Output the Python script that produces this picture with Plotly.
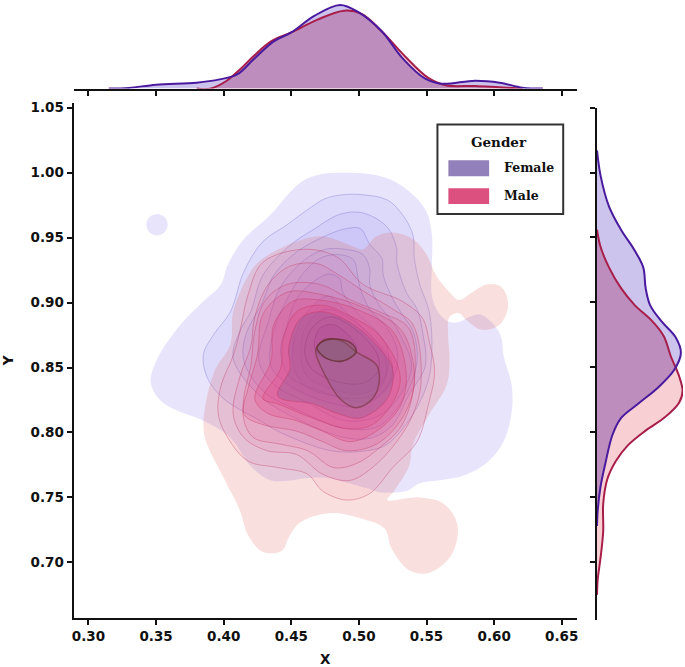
"""Joint KDE of X and Y by gender: filled contours with marginal densities."""

import plotly.graph_objects as go

# filled density contours, outermost first
female_1_x = [.488, .508, .525, .540, .550, .554, .554, .554, .559, .567, .574, .582, .589, .598, .605, .607, .613, .613, .607, .596, .578, .559, .545, .535, .515, .506, .476, .462, .449, .435, .420, .405, .385, .363, .352, .346, .351, .368, .385, .398, .403, .415, .435, .449, .459, .473]
female_1_y = [1.000, .999, .994, .983, .970, .952, .929, .905, .892, .885, .885, .889, .891, .885, .874, .859, .836, .816, .793, .778, .767, .763, .761, .755, .754, .757, .765, .765, .763, .763, .774, .796, .809, .818, .826, .839, .857, .883, .901, .914, .929, .949, .968, .985, .994, .999]
female_island_x = [.3586, .3563, .3507, .3451, .3428, .3451, .3507, .3563]
female_island_y = [.960, .9658, .9682, .9658, .960, .9542, .9518, .9542]
female_2_x = [.488, .503, .521, .532, .540, .541, .545, .552, .554, .551, .540, .521, .506, .479, .442, .427, .400, .388, .385, .393, .405, .415, .429, .447, .464, .475]
female_2_y = [.983, .983, .979, .968, .952, .934, .914, .893, .862, .839, .814, .791, .786, .786, .800, .809, .826, .842, .860, .876, .893, .924, .947, .960, .973, .980]
female_3_x = [.486, .503, .521, .528, .528, .535, .543, .547, .549, .537, .525, .510, .490, .457, .427, .407, .412, .420, .429, .449, .466]
female_3_y = [.968, .969, .958, .941, .931, .908, .895, .878, .851, .829, .806, .796, .796, .809, .828, .857, .878, .893, .921, .944, .956]
female_4_x = [.501, .508, .517, .518, .525, .532, .540, .543, .534, .515, .490, .457, .429, .415, .416, .429, .437, .454, .479, .491]
female_4_y = [.957, .945, .934, .921, .903, .891, .878, .855, .828, .805, .803, .816, .832, .855, .874, .901, .921, .939, .953, .957]
female_5_x = [.490, .503, .508, .508, .515, .525, .532, .539, .530, .515, .490, .460, .438, .426, .433, .442, .460, .475]
female_5_y = [.941, .937, .926, .914, .898, .885, .872, .851, .828, .813, .809, .824, .836, .855, .885, .912, .933, .941]
female_6_x = [.484, .496, .499, .501, .508, .521, .528, .528, .519, .501, .475, .449, .435, .437, .446, .460, .471]
female_6_y = [.937, .933, .921, .911, .895, .880, .865, .849, .832, .820, .824, .836, .851, .878, .901, .924, .934]
female_7_x = [.479, .486, .488, .498, .513, .521, .521, .512, .493, .471, .449, .442, .447, .454, .469]
female_7_y = [.922, .918, .908, .893, .878, .865, .847, .830, .826, .832, .843, .862, .883, .903, .918]
female_8_x = [.451, .457, .477, .490, .509, .524, .523, .507, .482, .460]
female_8_y = [.855, .885, .905, .893, .874, .855, .839, .824, .828, .836]
female_9_x = [.457, .461, .476, .501, .519, .519, .504, .482, .462]
female_9_y = [.859, .882, .895, .882, .859, .842, .830, .833, .843]
female_10_x = [.460, .465, .479, .501, .514, .514, .503, .484, .465]
female_10_y = [.862, .880, .889, .876, .859, .847, .838, .839, .849]
female_11_x = [.467, .471, .481, .493, .498, .492, .479, .470]
female_11_y = [.868, .880, .883, .874, .865, .856, .856, .860]

male_1_x = [.525, .540, .550, .557, .567, .574, .584, .594, .604, .609, .610, .604, .591, .579, .574, .567, .566, .567, .565, .552, .540, .537, .526, .521, .545, .563, .573, .568, .552, .537, .524, .519, .501, .479, .457, .449, .443, .429, .418, .412, .401, .387, .385, .388, .394, .405, .407, .420, .429, .454, .471, .484, .496, .503, .513]
male_1_y = [.954, .949, .937, .921, .908, .902, .908, .914, .913, .906, .895, .883, .879, .887, .892, .889, .874, .857, .837, .814, .791, .774, .755, .748, .750, .745, .728, .705, .692, .694, .711, .726, .734, .738, .731, .721, .709, .708, .721, .740, .763, .793, .806, .829, .849, .868, .893, .924, .934, .947, .951, .948, .943, .941, .951]
male_2_x = [.552, .547, .532, .503, .484, .459, .429, .418, .412, .407, .398, .396, .403, .418, .440, .462, .473, .491, .508, .525, .543, .551, .556]
male_2_y = [.870, .888, .901, .914, .935, .941, .931, .906, .878, .859, .836, .814, .796, .778, .773, .768, .755, .748, .753, .773, .793, .820, .847]
male_3_x = [.407, .415, .432, .454, .473, .493, .510, .528, .540, .546, .540, .525, .506, .484, .469, .449, .433, .423, .420, .412]
male_3_y = [.814, .796, .786, .783, .768, .763, .773, .793, .814, .839, .883, .895, .907, .922, .930, .928, .914, .889, .866, .843]
male_4_x = [.415, .422, .442, .462, .481, .498, .515, .532, .541, .537, .515, .496, .471, .447, .431, .423, .420, .415]
male_4_y = [.809, .796, .791, .786, .773, .776, .788, .806, .839, .880, .893, .901, .914, .914, .902, .878, .851, .828]
male_5_x = [.415, .429, .454, .473, .491, .513, .532, .541, .532, .506, .473, .447, .429, .425, .418]
male_5_y = [.814, .806, .801, .793, .786, .791, .811, .839, .878, .895, .906, .908, .891, .860, .834]
male_6_x = [.423, .432, .454, .473, .493, .510, .530, .535, .525, .498, .471, .451, .437, .435]
male_6_y = [.826, .815, .809, .801, .793, .799, .819, .845, .878, .895, .902, .901, .883, .855]
male_7_x = [.429, .440, .466, .491, .510, .528, .530, .515, .491, .473, .454, .444, .442]
male_7_y = [.826, .822, .811, .803, .806, .829, .847, .875, .891, .898, .893, .872, .849]
male_8_x = [.440, .449, .448, .457, .473, .496, .515, .525, .521, .501, .486, .466]
male_8_y = [.828, .849, .865, .888, .893, .883, .865, .849, .826, .811, .814, .822]
male_9_x = [.468, .476, .486, .498, .510, .515, .513, .498, .488, .476, .469]
male_9_y = [.862, .842, .826, .819, .826, .839, .852, .862, .870, .872, .866]
male_10_x = [.469, .476, .488, .498, .494, .481, .473]
male_10_y = [.865, .857, .855, .862, .869, .872, .870]

# marginal densities
top_female_x = [.315, .330, .350, .380, .397, .410, .422, .437, .450, .467, .486, .499, .517, .532, .549, .561, .586, .604, .621, .636]
top_female_d = [0, .07, .4, .6, .93, 1.43, 2.93, 4.76, 5.66, 7.33, 8.43, 7.76, 5.76, 3.1, 1.0, .5, .8, .6, .1, 0]
top_male_x = [.380, .390, .402, .412, .422, .435, .450, .469, .489, .502, .517, .534, .551, .564, .586, .604, .621]
top_male_d = [0, 0, .77, 1.93, 3.26, 4.76, 5.66, 6.93, 7.86, 7.53, 5.76, 3.26, 1.1, .33, .27, .13, 0]
right_female_y = [1.017, .998, .974, .956, .940, .927, .911, .898, .885, .873, .861, .848, .835, .822, .811, .798, .777, .758, .740, .728]
right_female_d = [0, .33, 1.14, 2.29, 3.59, 4.41, 4.64, 5.06, 6.2, 7.51, 8.0, 7.35, 5.88, 3.92, 2.29, 1.47, .82, .33, .07, 0]
right_male_y = [.956, .943, .927, .911, .898, .886, .874, .859, .843, .832, .823, .812, .801, .790, .778, .764, .745, .724, .703, .687, .675]
right_male_d = [0, .33, 1.14, 2.29, 3.59, 5.22, 6.37, 7.02, 7.84, 8.16, 7.84, 6.53, 4.57, 2.94, 1.80, .98, .59, .59, .33, .07, 0]

x_ticks = [.30, .35, .40, .45, .50, .55, .60, .65]
y_ticks = [.70, .75, .80, .85, .90, .95, 1.00, 1.05]

female_levels = [
    (female_1_x, female_1_y), (female_island_x, female_island_y),
    (female_2_x, female_2_y), (female_3_x, female_3_y), (female_4_x, female_4_y),
    (female_5_x, female_5_y), (female_6_x, female_6_y), (female_7_x, female_7_y),
    (female_8_x, female_8_y), (female_9_x, female_9_y), (female_10_x, female_10_y),
    (female_11_x, female_11_y),
]
female_alpha = [.17, .17, .08, .08, .07, .06, .06, .06, .06, .07, .09, .2]
male_levels = [
    (male_1_x, male_1_y), (male_2_x, male_2_y), (male_3_x, male_3_y), (male_4_x, male_4_y),
    (male_5_x, male_5_y), (male_6_x, male_6_y), (male_7_x, male_7_y), (male_8_x, male_8_y),
    (male_9_x, male_9_y), (male_10_x, male_10_y),
]
male_colors = ["225,95,90", "236,45,115", "236,45,115", "236,45,115", "236,45,115", "236,45,115", "236,45,115", "130,90,150", "120,110,130", "110,100,90"]
male_alpha = [.2, .06, .07, .08, .14, .18, .18, .3, .22, .3]

FEMALE_LINE = "#4a1a9e"
MALE_LINE = "#a81e4a"
FEMALE_FILL = "#cdc4ee"
MALE_FILL = "#f8cfd2"
BOTH_FILL = "#bd8dbd"
FONT = "DejaVu Sans"
LEGEND_FONT = "DejaVu Serif"
W, H = 685, 667

fig = go.Figure()


def add_contour(xs, ys, fill, line, width=1):
    fig.add_trace(go.Scatter(
        x=xs + xs[:1], y=ys + ys[:1], mode="lines", fill="toself", fillcolor=fill,
        line=dict(color=line, width=width, shape="spline", smoothing=1),
        hoverinfo="skip", showlegend=False,
    ))


def add_marginal(x, y, axes, fill_mode, fill=None, line=None):
    fig.add_trace(go.Scatter(
        x=x, y=y, xaxis=axes[0], yaxis=axes[1], mode="lines",
        fill=fill_mode if fill else None, fillcolor=fill,
        line=dict(color=line or "rgba(0,0,0,0)", width=2, shape="spline"),
        hoverinfo="skip", showlegend=False,
    ))


for i, (xs, ys) in enumerate(female_levels):
    if i < 2:
        line = "rgba(0,0,0,0)"
    elif i < 10:
        line = "rgba(95,85,200,0.3)"
    else:
        line = "rgba(70,60,130,0.55)"
    add_contour(xs, ys, f"rgba(112,95,235,{female_alpha[i]})", line)
for i, (xs, ys) in enumerate(male_levels):
    fill = f"rgba({male_colors[i]},{male_alpha[i]})"
    if i == 0:
        add_contour(xs, ys, fill, "rgba(0,0,0,0)")
    elif i < 8:
        add_contour(xs, ys, fill, "rgba(195,45,85,0.35)")
    elif i == 8:
        add_contour(xs, ys, fill, "rgba(120,50,60,0.6)", 1.5)
    else:
        add_contour(xs, ys, fill, "rgba(100,45,45,0.75)", 1.5)

# top marginal: the overlap is the lower of the two curves
top_both_x = [v for v in top_male_x if v <= .517] + [v for v in top_female_x if .517 < v <= .561] + [v for v in top_male_x if v > .561]
top_both_d = [d for v, d in zip(top_male_x, top_male_d) if v <= .517] + [d for v, d in zip(top_female_x, top_female_d) if .517 < v <= .561] + [d for v, d in zip(top_male_x, top_male_d) if v > .561]
add_marginal(top_female_x, top_female_d, ("x2", "y2"), "tozeroy", fill=FEMALE_FILL)
add_marginal(top_male_x, top_male_d, ("x2", "y2"), "tozeroy", fill=MALE_FILL)
add_marginal(top_both_x, top_both_d, ("x2", "y2"), "tozeroy", fill=BOTH_FILL)
add_marginal(top_male_x, top_male_d, ("x2", "y2"), None, line=MALE_LINE)
add_marginal(top_female_x, top_female_d, ("x2", "y2"), None, line=FEMALE_LINE)

# right marginal: the curves cross near y = 0.853
right_both_y = [v for v in right_male_y if v > .853] + [v for v in right_female_y if v <= .853]
right_both_d = [d for v, d in zip(right_male_y, right_male_d) if v > .853] + [d for v, d in zip(right_female_y, right_female_d) if v <= .853]
add_marginal(right_female_d, right_female_y, ("x3", "y3"), "tozerox", fill=FEMALE_FILL)
add_marginal(right_male_d, right_male_y, ("x3", "y3"), "tozerox", fill=MALE_FILL)
add_marginal(right_both_d, right_both_y, ("x3", "y3"), "tozerox", fill=BOTH_FILL)
add_marginal(right_male_d, right_male_y, ("x3", "y3"), None, line=MALE_LINE)
add_marginal(right_female_d, right_female_y, ("x3", "y3"), None, line=FEMALE_LINE)

tick_font = dict(family=FONT, size=13.5, color="#111", weight="bold")
title_font = dict(family=FONT, size=13.5, color="#111", weight="bold")
axis_style = dict(showgrid=False, zeroline=False, showline=True, linecolor="#111", linewidth=2,
                  ticks="outside", ticklen=5, tickwidth=1.5, tickcolor="#111")

fig.update_layout(
    width=W, height=H, margin=dict(l=0, r=0, t=0, b=0),
    paper_bgcolor="white", plot_bgcolor="white", showlegend=False,
    xaxis=dict(domain=[72 / W, 578 / W], range=[.289, .661], tickvals=x_ticks, ticktext=[f"{v:.2f}" for v in x_ticks],
               tickfont=tick_font, title=dict(text="X", font=title_font, standoff=12), **axis_style),
    yaxis=dict(domain=[1 - 618 / H, 1 - 100 / H], range=[.657, 1.054], tickvals=y_ticks, ticktext=[f"{v:.2f}" for v in y_ticks],
               tickfont=tick_font, title=dict(text="Y", font=title_font, standoff=14), **axis_style),
    xaxis2=dict(domain=[72 / W, 578 / W], range=[.289, .661], anchor="y2", tickvals=x_ticks, showticklabels=False, **axis_style),
    yaxis2=dict(domain=[1 - 86 / H, 1], range=[0, 8.63], anchor="x2", visible=False),
    xaxis3=dict(domain=[598.5 / W, 1], range=[0, 8.2], anchor="y3", visible=False),
    yaxis3=dict(domain=[1 - 620 / H, 1 - 105 / H], range=[.6555, 1.05], anchor="x3", side="left", tickvals=y_ticks,
                showticklabels=False, **axis_style),
)


# legend box, drawn by hand so the swatches keep their size
def px_x(v):
    return v / W


def px_y(v):
    return 1 - v / H


fig.add_shape(type="rect", xref="paper", yref="paper", x0=px_x(438), x1=px_x(564.5), y0=px_y(212), y1=px_y(122),
              fillcolor="white", line=dict(color="#333", width=2))
fig.add_shape(type="rect", xref="paper", yref="paper", x0=px_x(449), x1=px_x(490), y0=px_y(174), y1=px_y(158),
              fillcolor="#9280bb", line_width=0)
fig.add_shape(type="rect", xref="paper", yref="paper", x0=px_x(449), x1=px_x(490), y0=px_y(202), y1=px_y(186),
              fillcolor="#dc5080", line_width=0)
for label, cx, cy, anchor, size in [("Gender", 500, 140, "center", 13.5), ("Female", 503, 165, "left", 12.5), ("Male", 503, 193, "left", 12.5)]:
    fig.add_annotation(text=label, xref="paper", yref="paper", x=px_x(cx), y=px_y(cy), showarrow=False,
                       xanchor=anchor, yanchor="middle", font=dict(family=LEGEND_FONT, size=size, color="#111", weight="bold"))

# the page margin would push the fixed-size figure out of the window
fig.write_html("out.html", config=dict(displayModeBar=False), post_script="document.body.style.margin = '0';")
